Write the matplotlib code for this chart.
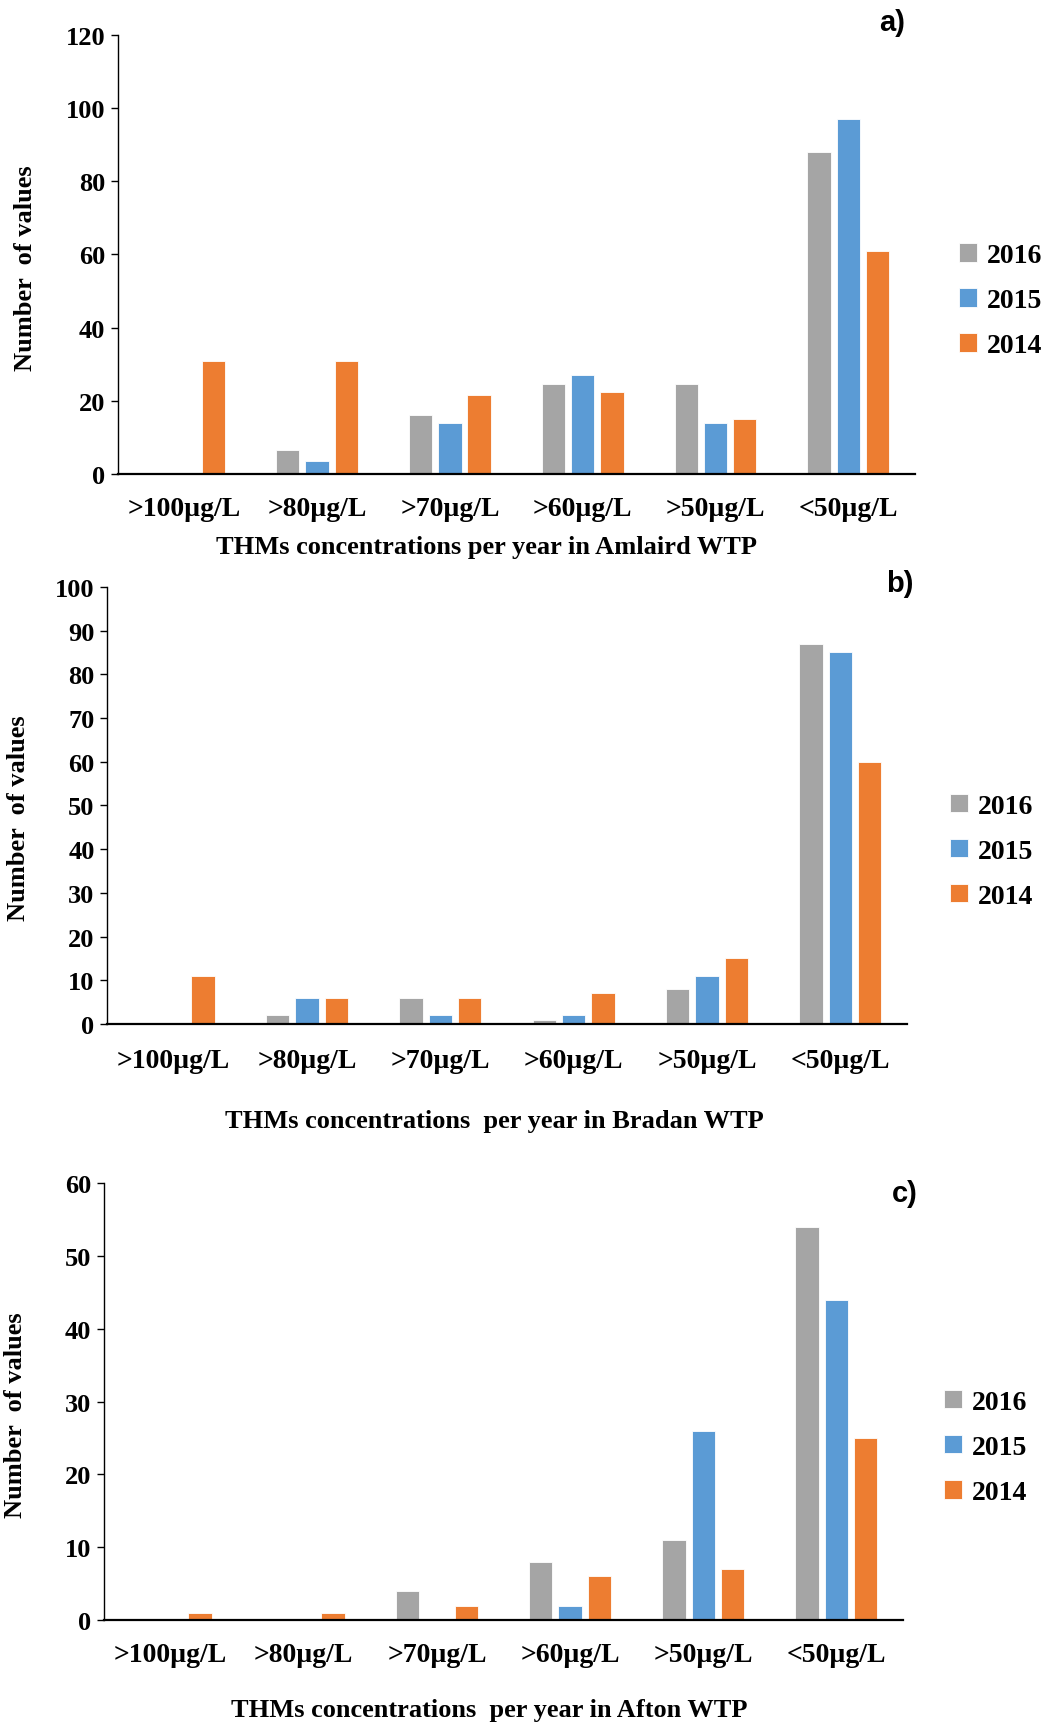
#!/usr/bin/env python3
"""
THMs concentration classes per year in three WTPs (grouped bars)
"""

import matplotlib
matplotlib.use("Agg")
import matplotlib.pyplot as plt
import numpy as np

categories = [">100µg/L", ">80µg/L", ">70µg/L", ">60µg/L", ">50µg/L", "<50µg/L"]
years = ["2016", "2015", "2014"]
colors = ["#A5A5A5", "#5B9BD5", "#ED7D31"]

# panel a) Amlaird WTP
amlaird_2016 = [0, 6.5, 16, 24.5, 24.5, 88]
amlaird_2015 = [0, 3.5, 14, 27, 14, 97]
amlaird_2014 = [31, 31, 21.5, 22.5, 15, 61]

# panel b) Bradan WTP
bradan_2016 = [0, 2, 6, 1, 8, 87]
bradan_2015 = [0, 6, 2, 2, 11, 85]
bradan_2014 = [11, 6, 6, 7, 15, 60]

# panel c) Afton WTP
afton_2016 = [0, 0, 4, 8, 11, 54]
afton_2015 = [0, 0, 0, 2, 26, 44]
afton_2014 = [1, 1, 2, 6, 7, 25]

plt.rcParams['font.family'] = ['Liberation Serif', 'DejaVu Serif']

panels = [
    dict(series=[amlaird_2016, amlaird_2015, amlaird_2014], ymax=120, step=20,
         xlabel="THMs concentrations per year in Amlaird WTP", tag="a)",
         rect=[0.113, 0.7245, 0.764, 0.2546], tick_pad=16, xlab_pad=10, xlab_x=0.462,
         ylab_pos=(-0.102, 0.472), tag_pos=(0.972, 1.030), leg_x=1.042),
    dict(series=[bradan_2016, bradan_2015, bradan_2014], ymax=100, step=10,
         xlabel="THMs concentrations  per year in Bradan WTP", tag="b)",
         rect=[0.1026, 0.4055, 0.767, 0.2535], tick_pad=17, xlab_pad=26, xlab_x=0.484,
         ylab_pos=(-0.096, 0.473), tag_pos=(0.991, 1.009), leg_x=1.04),
    dict(series=[afton_2016, afton_2015, afton_2014], ymax=60, step=10,
         xlabel="THMs concentrations  per year in Afton WTP", tag="c)",
         rect=[0.0997, 0.0597, 0.766, 0.2535], tick_pad=16, xlab_pad=22, xlab_x=0.482,
         ylab_pos=(-0.096, 0.47), tag_pos=(1.0025, 0.977), leg_x=1.038),
]

fig = plt.figure(figsize=(10.43, 17.24), dpi=100)

x = np.arange(len(categories))
width = 0.175
pitch = 0.22

for p in panels:
    ax = fig.add_axes(p["rect"])
    for i, (vals, year, col) in enumerate(zip(p["series"], years, colors)):
        ax.bar(x + (i - 1) * pitch, vals, width, color=col, label=year,
               edgecolor='white', linewidth=0.6)

    ax.set_xlim(-0.5, len(categories) - 0.5)
    ax.set_ylim(0, p["ymax"])
    ax.set_yticks(np.arange(0, p["ymax"] + 1, p["step"]))
    ax.set_xticks(x)
    ax.set_xticklabels(categories)
    ax.tick_params(axis='x', length=0, pad=p["tick_pad"], labelsize=20)
    ax.tick_params(axis='y', length=5, width=1, labelsize=19, pad=4)
    for lab in ax.get_xticklabels() + ax.get_yticklabels():
        lab.set_fontweight('bold')

    ax.spines['top'].set_visible(False)
    ax.spines['right'].set_visible(False)
    ax.spines['left'].set_linewidth(1.0)
    ax.spines['bottom'].set_linewidth(1.6)

    ax.set_xlabel(p["xlabel"], fontsize=19, fontweight='bold', labelpad=p["xlab_pad"])
    ax.xaxis.label.set_x(p["xlab_x"])
    ax.set_ylabel("Number  of values", fontsize=19, fontweight='bold')
    ax.yaxis.set_label_coords(*p["ylab_pos"])

    ax.text(p["tag_pos"][0], p["tag_pos"][1], p["tag"], transform=ax.transAxes,
            fontsize=21, fontweight='bold', family='Liberation Sans',
            ha='center', va='center')

    ax.legend(loc='center left', bbox_to_anchor=(p["leg_x"], 0.395), frameon=False,
              prop={'size': 20, 'weight': 'bold'}, handlelength=0.65, handleheight=0.65,
              handletextpad=0.35, labelspacing=0.72, borderaxespad=0)

plt.savefig("out.png", dpi=100)
plt.close()
